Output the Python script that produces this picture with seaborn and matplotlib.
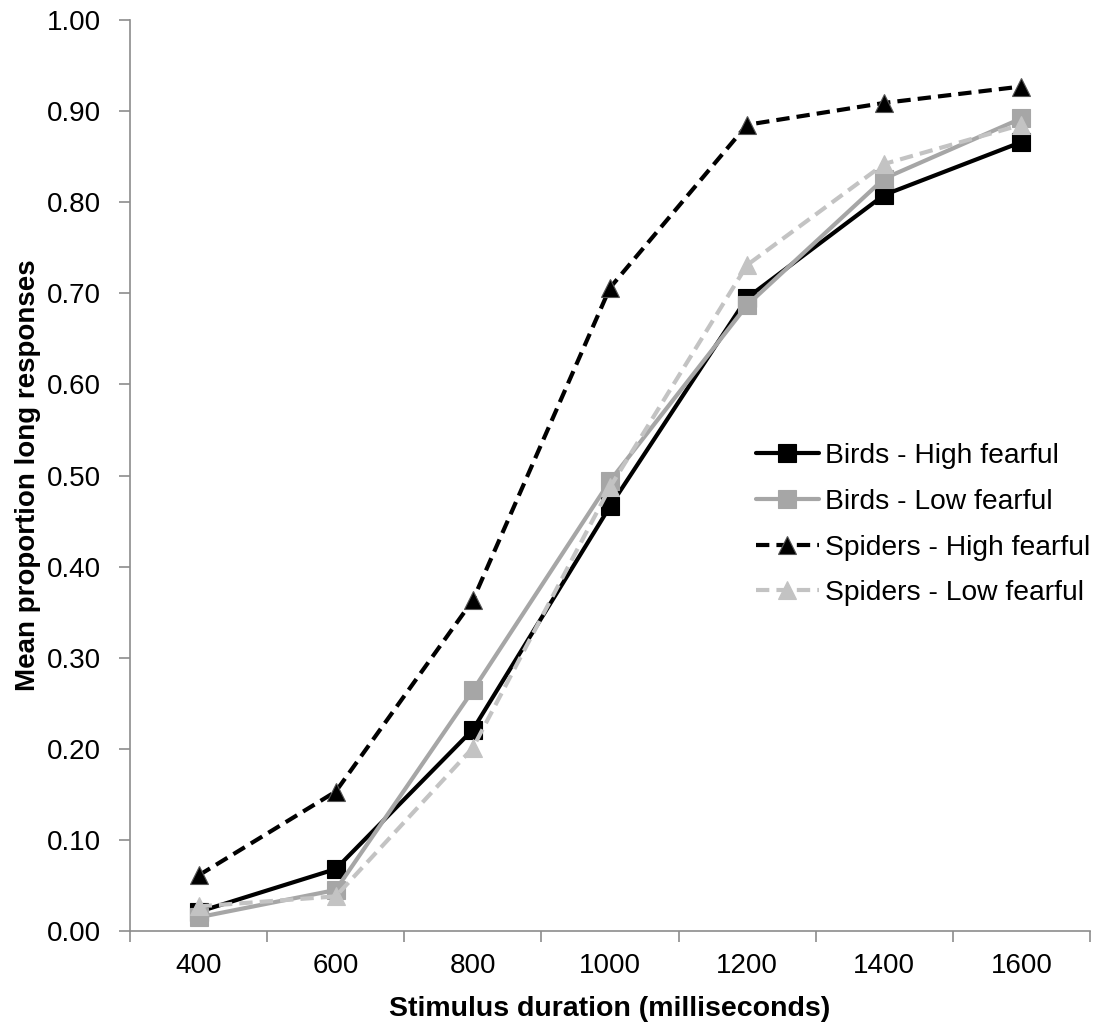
import pandas as pd
import numpy as np
import matplotlib
matplotlib.use('Agg')
import matplotlib.pyplot as plt
from matplotlib.ticker import FixedLocator
import seaborn as sns

durations = ['400', '600', '800', '1000', '1200', '1400', '1600']
birds_high = [0.021, 0.068, 0.221, 0.466, 0.695, 0.808, 0.866]
birds_low = [0.015, 0.045, 0.264, 0.494, 0.687, 0.826, 0.892]
spiders_high = [0.061, 0.153, 0.363, 0.706, 0.885, 0.909, 0.927]
spiders_low = [0.027, 0.038, 0.201, 0.487, 0.731, 0.842, 0.885]
series_names = ['Birds - High fearful', 'Birds - Low fearful',
                'Spiders - High fearful', 'Spiders - Low fearful']
y_ticks = [0.0, 0.1, 0.2, 0.3, 0.4, 0.5, 0.6, 0.7, 0.8, 0.9, 1.0]

rows = []
for name, vals in zip(series_names, [birds_high, birds_low, spiders_high, spiders_low]):
    for d, v in zip(durations, vals):
        rows.append({'duration': d, 'value': v, 'series': name})
df = pd.DataFrame(rows)

sns.set_style('white')
plt.rcParams['font.family'] = ['Liberation Sans', 'DejaVu Sans']
plt.rcParams['text.color'] = 'black'
plt.rcParams['axes.labelcolor'] = 'black'
plt.rcParams['xtick.labelcolor'] = 'black'
plt.rcParams['ytick.labelcolor'] = 'black'

palette = {'Birds - High fearful': '#000000', 'Birds - Low fearful': '#a6a6a6',
           'Spiders - High fearful': '#000000', 'Spiders - Low fearful': '#c3c3c3'}
markers = {'Birds - High fearful': 's', 'Birds - Low fearful': 's',
           'Spiders - High fearful': '^', 'Spiders - Low fearful': '^'}
dashes = {'Birds - High fearful': '', 'Birds - Low fearful': '',
          'Spiders - High fearful': (3.2, 1.7), 'Spiders - Low fearful': (3.2, 1.7)}

fig = plt.figure(figsize=(11.02, 10.27), dpi=100)
ax = fig.add_axes([0.118, 0.0935, 0.871, 0.887])

sns.lineplot(data=df, x='duration', y='value', hue='series', style='series',
             palette=palette, markers=markers, dashes=dashes, sort=False,
             linewidth=3, markersize=13, markeredgewidth=0.8, ax=ax)

# triangle edges like the original
for line in ax.get_lines():
    if line.get_marker() == '^':
        if line.get_color() == '#000000':
            line.set_markeredgecolor('#555555')
        else:
            line.set_markeredgecolor('#c3c3c3')
    else:
        line.set_markeredgecolor(line.get_color())

ax.set_xlim(-0.5, 6.5)
ax.set_ylim(0, 1.0)
ax.set_yticks(y_ticks)
ax.set_yticklabels([f'{t:.2f}' for t in y_ticks], fontsize=20)
ax.set_xticks(range(len(durations)))
ax.set_xticklabels(durations, fontsize=20)
ax.xaxis.set_minor_locator(FixedLocator(np.arange(-0.5, 7, 1.0)))
ax.tick_params(axis='x', which='major', length=0, pad=16)
ax.tick_params(axis='x', which='minor', length=8, width=1.2, color='#8c8c8c', direction='out')
ax.tick_params(axis='y', which='major', length=8, width=1.2, color='#8c8c8c', direction='out', pad=13)
ax.tick_params(bottom=True, left=True, which='both')

for side in ['top', 'right']:
    ax.spines[side].set_visible(False)
for side in ['left', 'bottom']:
    ax.spines[side].set_color('#8c8c8c')
    ax.spines[side].set_linewidth(1.2)

ax.set_xlabel('Stimulus duration (milliseconds)', fontsize=20.5, fontweight='bold', labelpad=12)
ax.set_ylabel('Mean proportion long responses', fontsize=20, fontweight='bold', labelpad=4)

handles, labels = ax.get_legend_handles_labels()
ax.legend(handles, labels, loc='upper left', bbox_to_anchor=(0.64, 0.548), frameon=False,
          fontsize=20.3, handlelength=2.25, handletextpad=0.2, labelspacing=0.7,
          borderaxespad=0)

fig.savefig('out.png', dpi=100)
